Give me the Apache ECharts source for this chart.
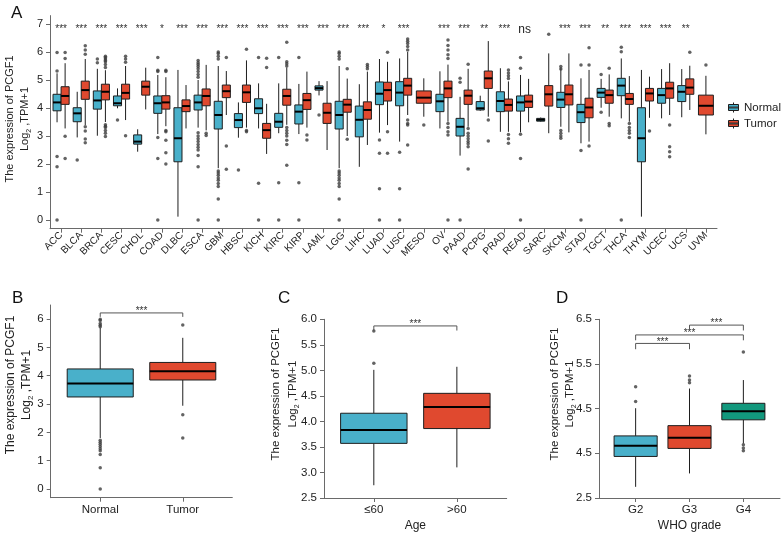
<!DOCTYPE html>
<html>
<head>
<meta charset="utf-8">
<script src="https://cdn.jsdelivr.net/npm/echarts@6/dist/echarts.min.js"></script>
<style>html,body{margin:0;padding:0;background:#fff}#chart{width:781px;height:535px}</style>
</head>
<body>
<div id="chart"></div>
<script>
// ---------- DATA ----------
const cancers = ['ACC','BLCA','BRCA','CESC','CHOL','COAD','DLBC','ESCA','GBM','HBSC','KICH','KIRC','KIRP','LAML','LGG','LIHC','LUAD','LUSC','MESO','OV','PAAD','PCPG','PRAD','READ','SARC','SKCM','STAD','TGCT','THCA','THYM','UCEC','UCS','UVM'];
// [min, Q1, median, Q3, max]
const normalBox = [
  [3.49,3.90,4.20,4.49,5.24],[2.95,3.51,3.81,4.01,4.58],[3.01,3.96,4.27,4.61,5.40],[3.99,4.08,4.17,4.43,4.70],
  [2.44,2.71,2.80,3.04,3.24],[3.07,3.81,4.17,4.43,5.18],[0.12,2.08,2.92,4.01,5.36],[3.30,3.93,4.20,4.46,5.00],
  [1.85,3.25,3.75,4.24,5.50],[2.94,3.30,3.57,3.80,4.20],[3.27,3.80,3.99,4.33,4.88],[3.10,3.31,3.51,3.81,4.88],
  [3.07,3.43,3.87,4.11,4.86],[4.45,4.64,4.71,4.79,4.96],[1.85,3.25,3.75,4.24,5.50],[1.90,2.97,3.58,4.07,4.85],
  [3.12,4.12,4.51,4.93,5.75],[2.80,4.08,4.55,4.94,5.77],null,[3.27,3.87,4.24,4.49,5.31],
  [2.30,3.00,3.33,3.63,4.40],[3.90,3.93,3.99,4.23,4.44],[3.15,3.87,4.25,4.58,5.42],[3.13,3.89,4.20,4.43,5.18],
  [3.51,3.53,3.58,3.63,3.66],[3.33,4.02,4.30,4.56,5.42],[2.74,3.48,3.85,4.13,5.06],[4.01,4.38,4.55,4.70,5.04],
  [3.63,4.44,4.80,5.06,5.77],[0.12,2.08,2.92,4.01,5.36],[3.63,4.17,4.46,4.70,5.39],[3.67,4.23,4.58,4.80,5.39],null
];
const tumorBox = [
  [3.27,4.13,4.43,4.76,5.60],[3.39,4.31,4.64,4.96,5.75],[3.50,4.29,4.58,4.85,5.35],[3.57,4.32,4.54,4.85,5.50],
  [3.95,4.46,4.76,4.96,5.44],[3.35,3.96,4.20,4.44,5.10],[3.27,3.87,4.07,4.29,4.82],[3.20,4.08,4.43,4.68,5.54],
  [3.75,4.37,4.60,4.82,5.32],[3.30,4.20,4.56,4.82,5.70],[2.36,2.92,3.21,3.45,4.15],[3.40,4.10,4.43,4.67,5.45],
  [3.30,3.95,4.28,4.52,5.30],[2.50,3.45,3.83,4.17,4.96],[3.00,3.85,4.12,4.31,5.05],[2.68,3.60,3.93,4.22,5.30],
  [3.39,4.25,4.64,4.92,5.65],[3.75,4.46,4.80,5.06,6.00],[3.69,4.17,4.37,4.61,5.06],[3.51,4.37,4.70,4.96,5.55],
  [3.33,4.13,4.44,4.64,5.40],[3.69,4.70,5.06,5.32,6.39],[3.15,3.89,4.11,4.32,4.95],[3.49,4.02,4.23,4.46,5.04],
  [3.10,4.07,4.49,4.80,5.95],[3.13,4.11,4.49,4.82,5.95],[2.80,3.65,4.02,4.35,5.36],[3.69,4.17,4.46,4.64,5.20],
  [3.51,4.13,4.32,4.52,5.14],[3.65,4.25,4.52,4.70,5.12],[3.75,4.35,4.70,4.92,5.60],[3.93,4.49,4.73,5.04,5.51],
  [3.06,3.75,4.08,4.46,5.15]
];
const normalOut = [
  [5.98,5.32,2.27,1.90,0],[2.14],[5.75,5.62],[3.57],[],[5.80,5.35,5.30,2.95,2.20,0],[],
  [5.70,5.62,5.55,5.48,5.40,5.30,5.20,5.10,3.12,3.00,2.90,2.80,2.70,2.60,2.50,2.30,1.90,0],
  [6.00,5.95,5.85,5.75,1.75,1.68,1.60,1.50,1.42,1.30,1.20,0.75,0],[1.79],[5.80,1.31,0],[5.80,1.33,0],
  [5.80,1.33,0],[3.75],[6.00,5.95,5.85,5.75,1.75,1.68,1.60,1.50,1.42,1.30,1.20,0.75,0],[],
  [2.86,2.38,1.12,0],[2.42,1.12,0],[],[],[5.06,4.92,0],[],[],[5.80,5.42,3.06,2.20,0],[],
  [5.48,5.39,3.20,3.10,3.00,2.92],[5.54,2.48,0],[5.20,3.85],[6.17,6.01,0],[],[],[],[]
];
const tumorOut = [
  [5.98,5.77,2.99,2.20],[6.22,6.07,5.92,3.33,3.18,2.89,2.76],
  [5.85,5.80,5.75,5.70,5.65,5.55,5.45,3.40,3.35,3.30,3.20,3.10,2.98],[5.85,5.75,5.63,3.01],[],
  [5.35,5.30,3.20,3.15,2.85,2.40,2.00],[],[3.10,3.02],[5.80,2.64,1.81],[6.10,3.20,3.15],[5.78,5.45],
  [6.35,5.65,5.58,5.50,3.30,3.20,3.10,3.00,2.85,2.70,1.96],[3.04,2.86],[],[5.40,2.88],[5.55,5.48,5.40],
  [5.99,3.15,2.38],[6.46,6.38,6.30,6.20,6.07,3.57,3.45,3.39,2.68],[3.39],[6.43,6.23,6.07,5.90,5.77,3.45,3.30,3.15,3.04,0],
  [5.56,3.27,3.10,3.00,2.90,2.80,2.72,2.62,1.82],[3.57,2.82],[5.36,5.25,5.15,5.05,3.05,2.90,2.74],[],
  [6.63],[],[6.15,5.54,2.64],[5.42,3.45,3.37],[3.45,3.30,3.20,3.10,2.95],[3.18],[3.39,2.62,2.44,2.26],[5.99],[5.54]
];
const sigA = ['***','***','***','***','***','*','***','***','***','***','***','***','***','***','***','***','*','***','','***','***','**','***','ns','','***','***','**','***','***','***','**',''];
const yTicksA = [0,1,2,3,4,5,6,7];

const bCats = ['Normal','Tumor'];
const bBox = [[1.80,3.25,3.73,4.24,5.70],[2.94,3.85,4.16,4.47,5.34]];
const bOut = [[6.00,5.95,5.85,5.78,5.73,1.72,1.65,1.58,1.50,1.42,1.35,1.22,0.75,0],[5.79,2.62,1.80]];
const yTicksB = [0,1,2,3,4,5,6];

const cCats = ['≤60','>60'];
const cBox = [[2.75,3.57,3.83,4.16,5.01],[3.10,3.86,4.28,4.55,5.07]];
const cOut = [[5.77,5.14],[]];

const dCats = ['G2','G3','G4'];
const dBox = [[2.75,3.43,3.67,3.89,4.51],[3.05,3.61,3.85,4.12,4.95],[3.72,4.25,4.44,4.62,5.14]];
const dOut = [[4.99,4.66],[5.23,5.14,5.08],[5.77,3.69,3.62,3.56]];
const dTickValues = [2.5,3.5,4.5,5.5,6.5];
const dTickLabels = ['2.5','4.5','4.5','5.5','6.5'];

const yTitleLine1 = 'The expression of PCGF1';

// ---------- STYLE / LAYOUT ----------
const BLUE = '#49B0CA', RED = '#E0492F', GREEN = '#12987D';
const AX = '#6a6a6a', TXT = '#222';
const FONT = '"Liberation Sans", Arial, Helvetica, sans-serif';
const SIG_Y = 6.83;

function makeBox(fill) {
  return function (params, api) {
    const x = api.value(0), w = api.value(6);
    const half = api.size([w, 0])[0] / 2;
    const lo = api.coord([x, api.value(1)]);
    const q1 = api.coord([x, api.value(2)]);
    const md = api.coord([x, api.value(3)]);
    const q3 = api.coord([x, api.value(4)]);
    const hi = api.coord([x, api.value(5)]);
    const cx = q1[0];
    const ls = {stroke: '#1e1e1e', lineWidth: 1};
    return {type: 'group', children: [
      {type: 'line', shape: {x1: cx, y1: hi[1], x2: cx, y2: q3[1]}, style: ls},
      {type: 'line', shape: {x1: cx, y1: q1[1], x2: cx, y2: lo[1]}, style: ls},
      {type: 'rect', shape: {x: cx - half, y: q3[1], width: half * 2, height: q1[1] - q3[1]}, style: {fill: fill, stroke: '#1e1e1e', lineWidth: 1}},
      {type: 'line', shape: {x1: cx - half, y1: md[1], x2: cx + half, y2: md[1]}, style: {stroke: '#000', lineWidth: 2}}
    ]};
  };
}

function bracketRender(texts) {
  return function (params, api) {
    const p1 = api.coord([api.value(0), api.value(2)]);
    const p2 = api.coord([api.value(1), api.value(2)]);
    const d = api.coord([api.value(0), api.value(3)]);
    return {type: 'group', children: [
      {type: 'polyline', shape: {points: [[p1[0], d[1]], p1, p2, [p2[0], d[1]]]}, style: {stroke: '#555', lineWidth: 1, fill: null}},
      {type: 'text', x: (p1[0] + p2[0]) / 2, y: p1[1] - 1.5, style: {text: texts[params.dataIndex], fill: '#333', fontSize: 10, fontFamily: FONT, align: 'center', verticalAlign: 'middle'}}
    ]};
  };
}

function yTitle(x, y, fs, lh) {
  return {type: 'text', x: x, y: y, rotation: Math.PI / 2, style: {
    text: '{t|' + yTitleLine1 + '}\n{t|Log}{s|2}{t| ,TPM+1}',
    align: 'center', verticalAlign: 'middle', fill: TXT, fontFamily: FONT, fontSize: fs,
    rich: {
      t: {fontSize: fs, lineHeight: lh, fontFamily: FONT, fill: TXT},
      s: {fontSize: Math.round(fs * 0.65), lineHeight: lh * 0.45, verticalAlign: 'bottom', fontFamily: FONT, fill: TXT}
    }
  }};
}

function valXAxis(grid, min, max, vals, names, base, labelOpts, opts) {
  return Object.assign({
    type: 'value', gridIndex: grid, min: min, max: max,
    axisLine: {show: true, onZero: false, lineStyle: {color: AX, width: 1}},
    axisTick: {show: true, customValues: vals, length: 4, lineStyle: {color: AX}},
    axisLabel: Object.assign({customValues: vals, formatter: v => names[Math.round(v) - base], color: TXT, fontSize: 11.5, fontFamily: FONT, margin: 6}, labelOpts || {}),
    splitLine: {show: false}
  }, opts || {});
}
function valYAxis(grid, min, max, vals, fmt, fs) {
  return {
    type: 'value', gridIndex: grid, min: min, max: max,
    axisLine: {show: true, onZero: false, lineStyle: {color: AX, width: 1}},
    axisTick: {show: true, customValues: vals, length: 4, lineStyle: {color: AX}},
    axisLabel: {customValues: vals, formatter: fmt, color: TXT, fontSize: fs, fontFamily: FONT, margin: 7},
    splitLine: {show: false}
  };
}

// ---------- BUILD SERIES DATA ----------
const aNormal = [], aTumor = [], aOut = [];
cancers.forEach((c, i) => {
  const both = normalBox[i] && tumorBox[i];
  const off = both ? 0.2 : 0, w = both ? 0.4 : 0.74;
  if (normalBox[i]) {
    aNormal.push([i - off].concat(normalBox[i], [w]));
    normalOut[i].forEach(v => aOut.push([i - off, v]));
  }
  if (tumorBox[i]) {
    aTumor.push([i + off].concat(tumorBox[i], [w]));
    tumorOut[i].forEach(v => aOut.push([i + off, v]));
  }
});
const aSig = sigA.map((s, i) => [i, SIG_Y]);

function simplePanel(boxes, outs) {
  const box = boxes.map((b, i) => [i + 1].concat(b, [0.8]));
  const out = [];
  outs.forEach((arr, i) => arr.forEach(v => out.push([i + 1, v])));
  return {box, out};
}
const pB = simplePanel(bBox, bOut);
const pC = simplePanel(cBox, cOut);
const pD = simplePanel(dBox, dOut);

const boxEncode = {x: 0, y: [1, 2, 3, 4, 5]};
function boxSeries(name, grid, data, fill) {
  return {type: 'custom', name: name, xAxisIndex: grid, yAxisIndex: grid, renderItem: makeBox(fill), data: data, encode: boxEncode, itemStyle: {color: fill, borderColor: '#1e1e1e', borderWidth: 1}, z: 2};
}
function outSeries(grid, data) {
  return {type: 'scatter', xAxisIndex: grid, yAxisIndex: grid, data: data, symbol: 'circle', symbolSize: 3.5, itemStyle: {color: '#3c3c3c'}, z: 3, silent: true};
}

const legendIcon = 'path://M5,0L5,2M0,2L10,2L10,8L0,8ZM0,4.6L0,5.4L10,5.4L10,4.6ZM5,8L5,10';
const nameStyle = {fontSize: 12, color: TXT, fontFamily: FONT};
const letterStyle = {fontSize: 17, fontWeight: 'normal', color: '#111', fontFamily: FONT};

const option = {
  animation: false,
  backgroundColor: '#fff',
  textStyle: {fontFamily: FONT},
  title: [
    {text: 'A', left: 6, top: 0, textStyle: letterStyle},
    {text: 'B', left: 7, top: 285, textStyle: letterStyle},
    {text: 'C', left: 273, top: 285, textStyle: letterStyle},
    {text: 'D', left: 551, top: 285, textStyle: letterStyle}
  ],
  legend: {
    orient: 'vertical', left: 723, top: 96.5, itemWidth: 11, itemHeight: 10, itemGap: 4,
    textStyle: {fontSize: 11.5, color: TXT, fontFamily: FONT, lineHeight: 10},
    data: [
      {name: 'Normal', icon: legendIcon, itemStyle: {color: BLUE, borderColor: '#1e1e1e', borderWidth: 1}},
      {name: 'Tumor', icon: legendIcon, itemStyle: {color: RED, borderColor: '#1e1e1e', borderWidth: 1}}
    ]
  },
  grid: [
    {left: 50, top: 15.6, width: 667, height: 213.1},
    {left: 50.7, top: 305, width: 181.6, height: 192.7},
    {left: 324, top: 319.3, width: 182.7, height: 178.7},
    {left: 599, top: 319.3, width: 181, height: 178.7}
  ],
  xAxis: [
    valXAxis(0, -0.55, 32.55, cancers.map((c, i) => i), cancers, 0, {rotate: 45, fontSize: 10, margin: 5, interval: 0}),
    valXAxis(1, 0.4, 2.6, [1, 2], bCats, 1),
    valXAxis(2, 0.4, 2.6, [1, 2], cCats, 1, null, {name: 'Age', nameLocation: 'middle', nameGap: 22, nameTextStyle: nameStyle}),
    valXAxis(3, 0.32, 3.68, [1, 2, 3], dCats, 1, null, {name: 'WHO grade', nameLocation: 'middle', nameGap: 22, nameTextStyle: nameStyle})
  ],
  yAxis: [
    valYAxis(0, -0.31, 7.3, yTicksA, v => String(v), 11),
    valYAxis(1, -0.31, 6.5, yTicksB, v => String(v), 11.5),
    {type: 'value', gridIndex: 2, min: 2.5, max: 6.0, interval: 0.5,
      axisLine: {show: true, onZero: false, lineStyle: {color: AX}},
      axisTick: {show: true, length: 4, lineStyle: {color: AX}},
      axisLabel: {formatter: v => v.toFixed(1), color: TXT, fontSize: 11.5, fontFamily: FONT, margin: 7},
      splitLine: {show: false}},
    valYAxis(3, 2.5, 6.5, dTickValues, v => dTickLabels[dTickValues.indexOf(v)], 11.5)
  ],
  graphic: [
    yTitle(17.5, 119, 11, 15),
    yTitle(19, 385, 12, 16),
    yTitle(284, 394, 11.5, 17),
    yTitle(562.5, 394, 11.5, 15)
  ],
  series: [
    boxSeries('Normal', 0, aNormal, BLUE),
    boxSeries('Tumor', 0, aTumor, RED),
    outSeries(0, aOut),
    {type: 'custom', xAxisIndex: 0, yAxisIndex: 0, data: aSig, encode: {x: 0, y: 1}, silent: true,
      renderItem: function (params, api) {
        const p = api.coord([api.value(0), api.value(1)]);
        const s = sigA[params.dataIndex];
        const isNs = s === 'ns';
        return {type: 'text', x: p[0], y: isNs ? p[1] + 0.5 : p[1], style: {text: s, fill: isNs ? '#222' : '#333', fontSize: isNs ? 12 : 10, fontFamily: FONT, align: 'center', verticalAlign: 'middle'}};
      }},
    boxSeries('B', 1, [pB.box[0]], BLUE),
    boxSeries('B2', 1, [pB.box[1]], RED),
    outSeries(1, pB.out),
    {type: 'custom', xAxisIndex: 1, yAxisIndex: 1, data: [[1, 2, 6.22, 6.08]], encode: {x: [0, 1], y: [2, 3]}, renderItem: bracketRender(['***']), silent: true},
    boxSeries('C', 2, [pC.box[0]], BLUE),
    boxSeries('C2', 2, [pC.box[1]], RED),
    outSeries(2, pC.out),
    {type: 'custom', xAxisIndex: 2, yAxisIndex: 2, data: [[1, 2, 5.87, 5.78]], encode: {x: [0, 1], y: [2, 3]}, renderItem: bracketRender(['***']), silent: true},
    boxSeries('D', 3, [pD.box[0]], BLUE),
    boxSeries('D2', 3, [pD.box[1]], RED),
    boxSeries('D3', 3, [pD.box[2]], GREEN),
    outSeries(3, pD.out),
    {type: 'custom', xAxisIndex: 3, yAxisIndex: 3, data: [[1, 2, 5.96, 5.83], [1, 3, 6.15, 6.03], [2, 3, 6.37, 6.25]], encode: {x: [0, 1], y: [2, 3]}, renderItem: bracketRender(['***', '***', '***']), silent: true}
  ]
};

const chart = echarts.init(document.getElementById('chart'));
chart.setOption(option);
</script>
</body>
</html>
